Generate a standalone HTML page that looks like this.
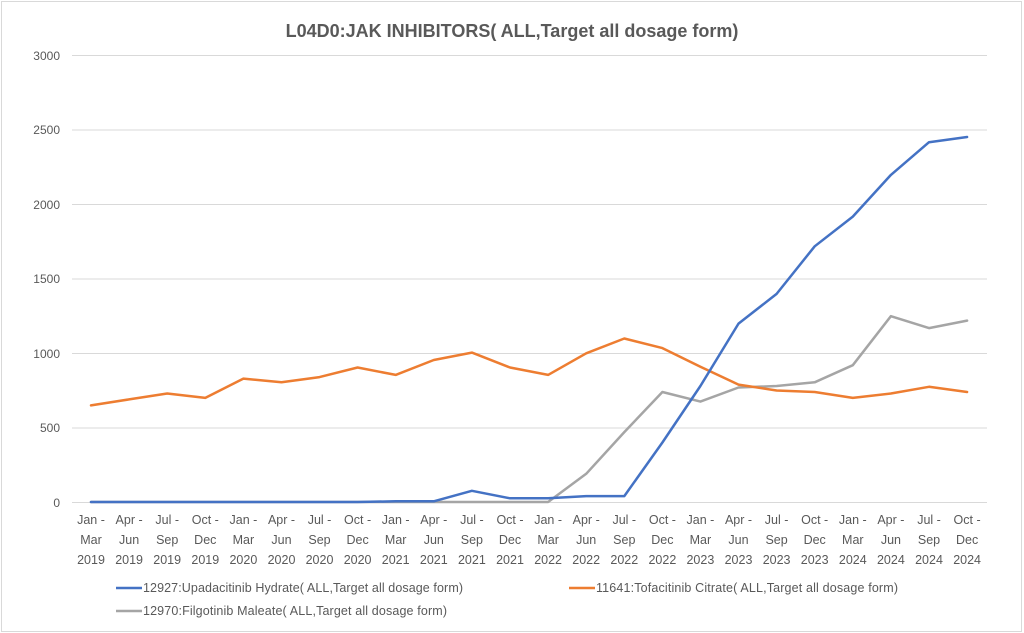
<!DOCTYPE html>
<html><head><meta charset="utf-8"><style>
html,body{margin:0;padding:0;background:#fff}
svg{display:block}
text{font-family:"Liberation Sans","Noto Sans CJK JP",sans-serif;fill:#595959}
</style></head><body>
<svg width="1024" height="633" viewBox="0 0 1024 633">
<rect x="1.5" y="1.5" width="1020" height="630" fill="#fff" stroke="#d9d9d9"/>
<text x="512" y="37" text-anchor="middle" font-size="18" font-weight="bold">L04D0:JAK INHIBITORS( ALL,Target all dosage form)</text>
<g stroke="#d9d9d9" stroke-width="1">
<line x1="72" x2="987" y1="55.5" y2="55.5"/><line x1="72" x2="987" y1="130" y2="130"/>
<line x1="72" x2="987" y1="204.5" y2="204.5"/><line x1="72" x2="987" y1="279" y2="279"/>
<line x1="72" x2="987" y1="353.5" y2="353.5"/><line x1="72" x2="987" y1="428" y2="428"/>
<line x1="72" x2="987" y1="502.5" y2="502.5"/>
</g>
<g font-size="12" text-anchor="end">
<text x="60" y="60">3000</text><text x="60" y="134">2500</text><text x="60" y="209">2000</text>
<text x="60" y="283">1500</text><text x="60" y="358">1000</text><text x="60" y="432">500</text><text x="60" y="507">0</text>
</g>
<g font-size="12.5" text-anchor="middle">
<text y="524"><tspan x="91">Jan -</tspan><tspan x="129.1">Apr -</tspan><tspan x="167.2">Jul -</tspan><tspan x="205.3">Oct -</tspan><tspan x="243.4">Jan -</tspan><tspan x="281.5">Apr -</tspan><tspan x="319.5">Jul -</tspan><tspan x="357.6">Oct -</tspan><tspan x="395.7">Jan -</tspan><tspan x="433.8">Apr -</tspan><tspan x="471.9">Jul -</tspan><tspan x="510">Oct -</tspan><tspan x="548.1">Jan -</tspan><tspan x="586.2">Apr -</tspan><tspan x="624.3">Jul -</tspan><tspan x="662.4">Oct -</tspan><tspan x="700.4">Jan -</tspan><tspan x="738.5">Apr -</tspan><tspan x="776.6">Jul -</tspan><tspan x="814.7">Oct -</tspan><tspan x="852.8">Jan -</tspan><tspan x="890.9">Apr -</tspan><tspan x="929">Jul -</tspan><tspan x="967.1">Oct -</tspan></text>
<text y="544"><tspan x="91">Mar</tspan><tspan x="129.1">Jun</tspan><tspan x="167.2">Sep</tspan><tspan x="205.3">Dec</tspan><tspan x="243.4">Mar</tspan><tspan x="281.5">Jun</tspan><tspan x="319.5">Sep</tspan><tspan x="357.6">Dec</tspan><tspan x="395.7">Mar</tspan><tspan x="433.8">Jun</tspan><tspan x="471.9">Sep</tspan><tspan x="510">Dec</tspan><tspan x="548.1">Mar</tspan><tspan x="586.2">Jun</tspan><tspan x="624.3">Sep</tspan><tspan x="662.4">Dec</tspan><tspan x="700.4">Mar</tspan><tspan x="738.5">Jun</tspan><tspan x="776.6">Sep</tspan><tspan x="814.7">Dec</tspan><tspan x="852.8">Mar</tspan><tspan x="890.9">Jun</tspan><tspan x="929">Sep</tspan><tspan x="967.1">Dec</tspan></text>
<text y="564"><tspan x="91">2019</tspan><tspan x="129.1">2019</tspan><tspan x="167.2">2019</tspan><tspan x="205.3">2019</tspan><tspan x="243.4">2020</tspan><tspan x="281.5">2020</tspan><tspan x="319.5">2020</tspan><tspan x="357.6">2020</tspan><tspan x="395.7">2021</tspan><tspan x="433.8">2021</tspan><tspan x="471.9">2021</tspan><tspan x="510">2021</tspan><tspan x="548.1">2022</tspan><tspan x="586.2">2022</tspan><tspan x="624.3">2022</tspan><tspan x="662.4">2022</tspan><tspan x="700.4">2023</tspan><tspan x="738.5">2023</tspan><tspan x="776.6">2023</tspan><tspan x="814.7">2023</tspan><tspan x="852.8">2024</tspan><tspan x="890.9">2024</tspan><tspan x="929">2024</tspan><tspan x="967.1">2024</tspan></text>
</g>
<g fill="none" stroke-width="2.5" stroke-linejoin="round" stroke-linecap="round">
<polyline stroke="#a5a5a5" points="91,502 129.1,502 167.2,502 205.3,502 243.4,502 281.5,502 319.5,502 357.6,502 395.7,502 433.8,502 471.9,502 510,502 548.1,502 586.2,473.8 624.3,432.1 662.4,392 700.4,401.6 738.5,387.5 776.6,386 814.7,382.3 852.8,365.2 890.9,316.2 929,328.1 967.1,320.6"/>
<polyline stroke="#ed7d31" points="91,405.4 129.1,399.4 167.2,393.5 205.3,397.9 243.4,378.6 281.5,382.3 319.5,377.1 357.6,367.5 395.7,374.9 433.8,360 471.9,352.6 510,367.5 548.1,374.9 586.2,353.3 624.3,338.5 662.4,348.1 700.4,366.7 738.5,384.6 776.6,390.5 814.7,392 852.8,397.9 890.9,393.5 929,386.8 967.1,392"/>
<polyline stroke="#4472c4" points="91,502 129.1,502 167.2,502 205.3,502 243.4,502 281.5,502 319.5,502 357.6,502 395.7,501.3 433.8,501.3 471.9,490.8 510,498.3 548.1,498.3 586.2,496.1 624.3,496.1 662.4,442.5 700.4,386 738.5,323.6 776.6,293.9 814.7,246.3 852.8,216.6 890.9,174.9 929,142.2 967.1,137"/>
</g>
<g stroke-width="2.5">
<line x1="116" x2="142" y1="588" y2="588" stroke="#4472c4"/>
<line x1="569" x2="595" y1="588" y2="588" stroke="#ed7d31"/>
<line x1="116" x2="142" y1="611" y2="611" stroke="#a5a5a5"/>
</g>
<g font-size="12.5">
<text x="143" y="592" textLength="320">12927:Upadacitinib Hydrate( ALL,Target all dosage form)</text>
<text x="596" y="592" textLength="302">11641:Tofacitinib Citrate( ALL,Target all dosage form)</text>
<text x="143" y="615" textLength="304">12970:Filgotinib Maleate( ALL,Target all dosage form)</text>
</g>
</svg>
</body></html>
